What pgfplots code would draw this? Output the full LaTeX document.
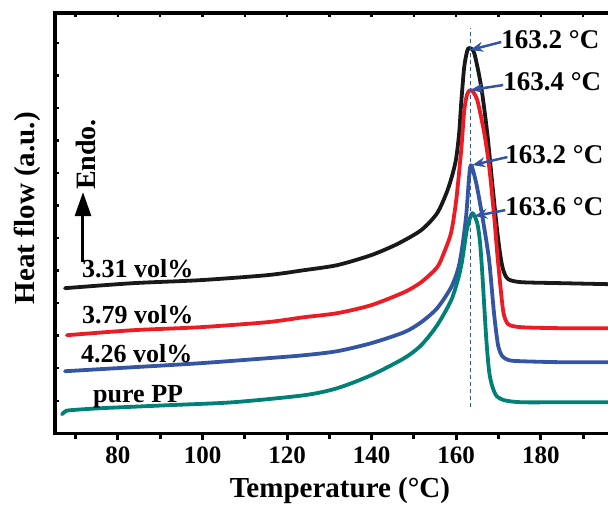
\documentclass[border=0pt]{standalone}
\usepackage{pgfplots}
\pgfplotsset{compat=1.18}
\usetikzlibrary{arrows.meta}
\usepackage{fontspec}
\setmainfont{Liberation Serif}
\definecolor{cblack}{RGB}{25,25,25}
\definecolor{cred}{RGB}{237,28,36}
\definecolor{cblue}{RGB}{52,84,164}
\definecolor{cteal}{RGB}{0,128,118}
\begin{document}
\begin{tikzpicture}
\pgfplotsset{
 base/.style={scale only axis, width=570pt, height=420pt, xmin=65.1, xmax=200, ymin=0, ymax=420, clip=false}
}
\begin{axis}[base,
  axis line style={line width=3.5pt, line cap=rect},
  xtick={80,100,...,180},
  minor xtick={70,90,...,190},
  xtick pos=bottom,
  ytick=\empty,
  tick align=outside,
  major tick length=7pt, minor tick length=6pt,
  tick style={line width=3pt, black},
  ticklabel style={font=\bfseries\fontsize{25}{25}\selectfont},
  /pgf/number format/assume math mode=true,
  xticklabel style={yshift=-3pt},
  every axis plot/.append style={line width=3.8pt, line join=round, line cap=round},
]
\addplot[cblack, smooth, tension=0.45] coordinates {
(67.46,145) (83.55,150) (99.41,153) (115.27,158) (124.02,163) (131.83,168) (139.88,178) (146,189) (151.72,203) (155.50,220) (157.87,242) (159.2,260) (160.00,275) (160.7,300) (161.18,330) (161.89,366) (162.60,382) (163.08,385) (164.26,380) (165.92,346) (167.34,300) (168.52,250) (169.70,202) (170.5,176) (171.2,162) (172.3,154) (175.38,151) (185,150) (195.98,149)};
\addplot[cred, smooth, tension=0.45] coordinates {
(67.93,98) (83.55,103) (99.41,106) (115.27,111) (124.02,116) (131.83,120) (139.88,128) (147.69,141) (151.72,151) (155.50,166) (157.16,181) (158.82,201) (160.00,233) (161.18,283) (161.89,322) (162.60,339) (163.55,343) (164.97,333) (166.63,300) (167.81,266) (168.99,216) (169.70,180) (170.5,145) (171.2,120) (172.3,109) (175.38,106) (185,105) (195.98,105)};
\addplot[cblue, smooth, tension=0.45] coordinates {
(67.46,62) (83.55,66) (99.41,70) (115.27,75) (124.02,78) (131.83,82) (139.88,90) (147.69,101) (151.72,111) (155.50,125) (158.82,146) (160.5,165) (161.42,186) (162.37,218) (163.08,258) (163.55,268) (164.73,250) (165.92,223) (167.10,193) (167.81,172) (168.28,151) (168.99,118) (169.9,88) (170.9,77) (172.5,73) (175.38,72) (185,71) (195.98,71)};
\addplot[cteal, smooth, tension=0.45] coordinates {
(66.75,19) (67.6,22) (68.64,23) (75.74,25) (91.60,28) (107.22,31) (124.02,38) (131.83,45) (139.88,58) (147.69,75) (151.72,88) (155.50,108) (158.82,133) (160.5,155) (161.3,170) (161.89,186) (162.60,205) (163.79,220) (164.97,210) (165.6,192) (166.15,161) (167.10,95) (167.81,61) (168.6,46) (169.6,37) (171.36,33) (175.38,31) (185,31) (195.98,31)};
\addplot[cblue, line width=1pt, dash pattern=on 4pt off 3pt, line cap=butt] coordinates {(163.4,26) (163.4,405)};
% annotations
\begin{scope}[cblue, line width=2.5pt, -{Stealth[length=13pt,width=10pt]}]
\draw (axis cs:170.65,391) -- (axis cs:163.3,383);
\draw (axis cs:171.1,348) -- (axis cs:163.4,343);
\draw (axis cs:172.1,276) -- (axis cs:163.8,268);
\draw (axis cs:171.6,223) -- (axis cs:164.3,217);
\end{scope}
\begin{scope}[font=\bfseries\fontsize{27}{27}\selectfont, inner sep=0pt]
\node[anchor=west] at (axis cs:170.65,393) {163.2 °C};
\node[anchor=west] at (axis cs:171.1,351) {163.4 °C};
\node[anchor=west] at (axis cs:171.6,278) {163.2 °C};
\node[anchor=west] at (axis cs:171.6,226) {163.6 °C};
\end{scope}
\begin{scope}[font=\bfseries\fontsize{26}{26}\selectfont, inner sep=0pt]
\node[anchor=base west] at (axis cs:71.49,156) {3.31 vol\%};
\node[anchor=base west] at (axis cs:71.49,110) {3.79 vol\%};
\node[anchor=base west] at (axis cs:71.25,71) {4.26 vol\%};
\node[anchor=base west] at (axis cs:74.1,31) {pure PP};
\end{scope}
\draw[black, line width=3pt, -{Triangle[length=24pt,width=16pt]}] (axis cs:71.73,171) -- (axis cs:71.73,241);
\node[rotate=90, anchor=west, inner sep=0pt, font=\bfseries\fontsize{28}{28}\selectfont] at (axis cs:72.44,243) {Endo.};
\node[rotate=90, font=\bfseries\fontsize{29}{29}\selectfont] at (axis cs:58.5,225) {Heat flow (a.u.)};
\node[font=\bfseries\fontsize{29}{29}\selectfont] at (axis cs:132.5,-57) {Temperature (°C)};
\coordinate (bbA) at (axis cs:52.1,-77);
\coordinate (bbB) at (axis cs:195.9,433);
\end{axis}
\begin{axis}[base,
  axis line style={draw=none},
  xtick={70,80,...,190}, xtick pos=top, xticklabels={},
  ytick={0,32.5,...,420}, ytick pos=left, yticklabels={},
  tick align=inside, major tick length=4pt,
  tick style={line width=2.5pt, black},
]
\end{axis}
\pgfresetboundingbox
\path[use as bounding box] (bbA) rectangle (bbB);
\end{tikzpicture}
\end{document}
